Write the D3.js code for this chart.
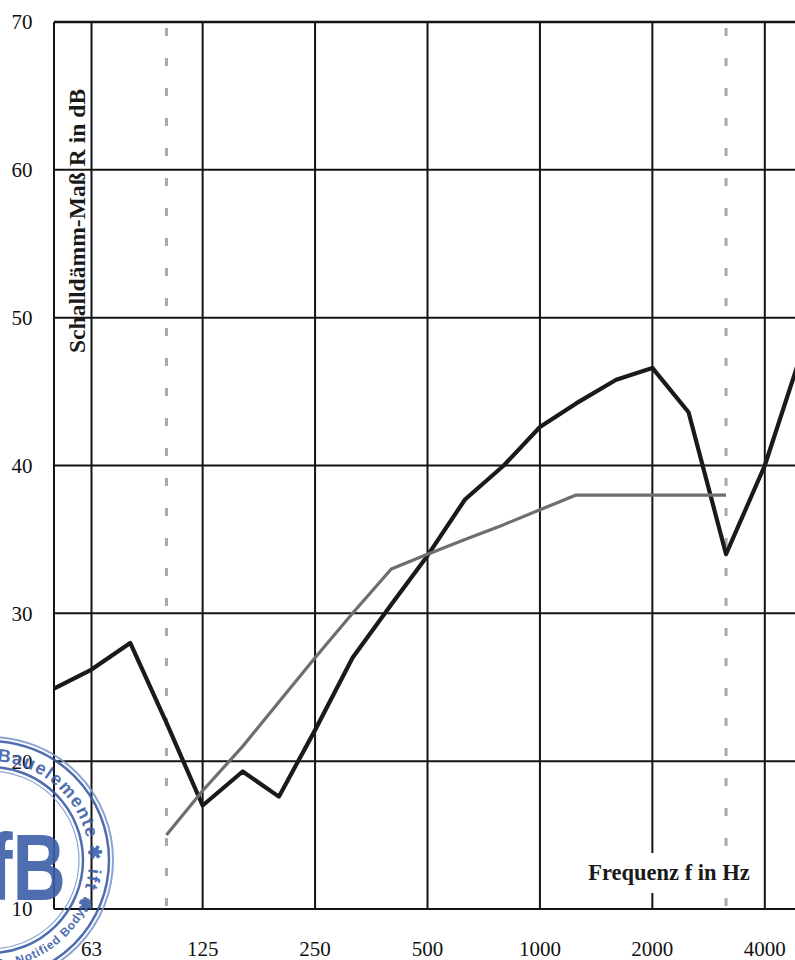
<!DOCTYPE html>
<html>
<head>
<meta charset="utf-8">
<script src="https://cdn.jsdelivr.net/npm/d3@7"></script>
<style>
  html, body { margin: 0; padding: 0; background: #fff; }
  svg { display: block; }
</style>
</head>
<body>
<script>
// Third-octave band centre frequencies (Hz)
const bands = [50, 63, 80, 100, 125, 160, 200, 250, 315, 400, 500, 630, 800, 1000, 1250, 1600, 2000, 2500, 3150, 4000, 5000];
// Measured sound reduction index R (dB)
const measured = [24.9, 26.2, 28.0, 22.6, 17.0, 19.3, 17.6, 22.1, 27.0, 30.6, 33.9, 37.7, 40.0, 42.6, 44.2, 45.8, 46.6, 43.6, 34.0, 40.0, 47.5];
// Shifted reference curve (100 Hz – 3150 Hz)
const refBands = [100, 125, 160, 200, 250, 315, 400, 500, 630, 800, 1000, 1250, 1600, 2000, 2500, 3150];
const refValues = [15, 18, 21, 24, 27, 30, 33, 34, 35, 36, 37, 38, 38, 38, 38, 38];
// Axis ticks
const octaveTicks = [63, 125, 250, 500, 1000, 2000, 4000];
const dashedTicks = [100, 3150];
const dbTicks = [10, 20, 30, 40, 50, 60, 70];

const W = 795, H = 960;
const svg = d3.select("body").append("svg").attr("width", W).attr("height", H);

const x = d3.scaleLog().domain([50, 5000]).range([54, 801]);
const y = d3.scaleLinear().domain([10, 70]).range([909, 22]);

const serif = "'Liberation Serif', 'Times New Roman', serif";
const sans = "'Liberation Sans', Arial, sans-serif";

// Horizontal grid
svg.append("g").selectAll("line").data(dbTicks).join("line")
  .attr("x1", x(50)).attr("x2", x(5000))
  .attr("y1", d => y(d)).attr("y2", d => y(d))
  .attr("stroke", "#141414").attr("stroke-width", d => d === 70 ? 2.6 : 2);

// Octave verticals and frame edge
svg.append("g").selectAll("line").data([50].concat(octaveTicks)).join("line")
  .attr("x1", d => x(d)).attr("x2", d => x(d))
  .attr("y1", y(70)).attr("y2", y(10))
  .attr("stroke", "#141414").attr("stroke-width", 2);

// Dashed limit lines at 100 Hz and 3150 Hz
svg.append("g").selectAll("line").data(dashedTicks).join("line")
  .attr("x1", d => x(d)).attr("x2", d => x(d))
  .attr("y1", y(70) + 6).attr("y2", y(10))
  .attr("stroke", "#a8a8a8").attr("stroke-width", 3)
  .attr("stroke-dasharray", "8 22");

// Y tick labels
svg.append("g").selectAll("text").data(dbTicks).join("text")
  .attr("x", 22).attr("y", d => y(d))
  .attr("dy", "0.35em")
  .attr("text-anchor", "middle")
  .attr("font-family", serif).attr("font-size", 21).attr("fill", "#111")
  .text(d => d);

// X tick labels
svg.append("g").selectAll("text").data(octaveTicks).join("text")
  .attr("x", d => x(d)).attr("y", 956)
  .attr("text-anchor", "middle")
  .attr("font-family", serif).attr("font-size", 21).attr("fill", "#111")
  .text(d => d);

const line = d3.line().x(d => x(d[0])).y(d => y(d[1]));

// Measured curve
svg.append("path")
  .datum(bands.map((f, i) => [f, measured[i]]))
  .attr("d", line)
  .attr("fill", "none").attr("stroke", "#1a1a1a")
  .attr("stroke-width", 4.2).attr("stroke-linejoin", "round");

// Reference curve
svg.append("path")
  .datum(refBands.map((f, i) => [f, refValues[i]]))
  .attr("d", line)
  .attr("fill", "none").attr("stroke", "#6e6e6e")
  .attr("stroke-width", 3.2).attr("stroke-linejoin", "round");

// X axis title on a white box
svg.append("rect")
  .attr("x", 578).attr("y", 853).attr("width", 180).attr("height", 40)
  .attr("fill", "#fff");
svg.append("text")
  .attr("x", 669).attr("y", 880)
  .attr("text-anchor", "middle")
  .attr("font-family", serif).attr("font-size", 22.5).attr("font-weight", "bold")
  .attr("fill", "#1a1a1a")
  .text("Frequenz f in Hz");

// Y axis title
svg.append("text")
  .attr("transform", "translate(85,353) rotate(-90)")
  .attr("text-anchor", "start")
  .attr("font-family", serif).attr("font-size", 23.6).attr("font-weight", "bold")
  .attr("fill", "#1a1a1a")
  .text("Schalldämm-Maß R in dB");

// Test institute stamp
const stampColor = "#3d5fa8";
const stampLight = "#7f9bd0";
const st = svg.append("g").attr("transform", "translate(-10,860)").attr("opacity", 0.9);
st.append("circle").attr("r", 123).attr("fill", "none").attr("stroke", stampLight).attr("stroke-width", 2);
st.append("circle").attr("r", 119).attr("fill", "none").attr("stroke", stampColor).attr("stroke-width", 2.5);
st.append("circle").attr("r", 93).attr("fill", "none").attr("stroke", stampColor).attr("stroke-width", 2.5);
st.append("circle").attr("r", 89).attr("fill", "none").attr("stroke", stampLight).attr("stroke-width", 1.2);

const deg = Math.PI / 180;
const arcTop = d3.path();
arcTop.arc(0, 0, 99, -86 * deg, 40 * deg, false);
st.append("path").attr("id", "stampTop").attr("d", arcTop.toString()).attr("fill", "none");
const arcBot = d3.path();
arcBot.arc(0, 0, 108, 86 * deg, 5 * deg, true);
st.append("path").attr("id", "stampBot").attr("d", arcBot.toString()).attr("fill", "none");

st.append("text")
  .attr("font-family", sans).attr("font-size", 18).attr("font-weight", "bold")
  .attr("fill", stampColor).attr("letter-spacing", 1.4)
  .append("textPath").attr("href", "#stampTop")
  .text("Bauelemente ✱ ift ✱");
st.append("text")
  .attr("font-family", sans).attr("font-size", 12).attr("font-weight", "bold")
  .attr("fill", stampColor).attr("letter-spacing", 0.8)
  .append("textPath").attr("href", "#stampBot")
  .text("3 , Notified Body ✱");

st.append("text")
  .attr("x", -2).attr("y", 40)
  .attr("textLength", 78).attr("lengthAdjust", "spacingAndGlyphs")
  .attr("font-family", sans).attr("font-size", 94).attr("font-weight", "bold")
  .attr("fill", stampColor)
  .text("fB");
</script>
</body>
</html>
